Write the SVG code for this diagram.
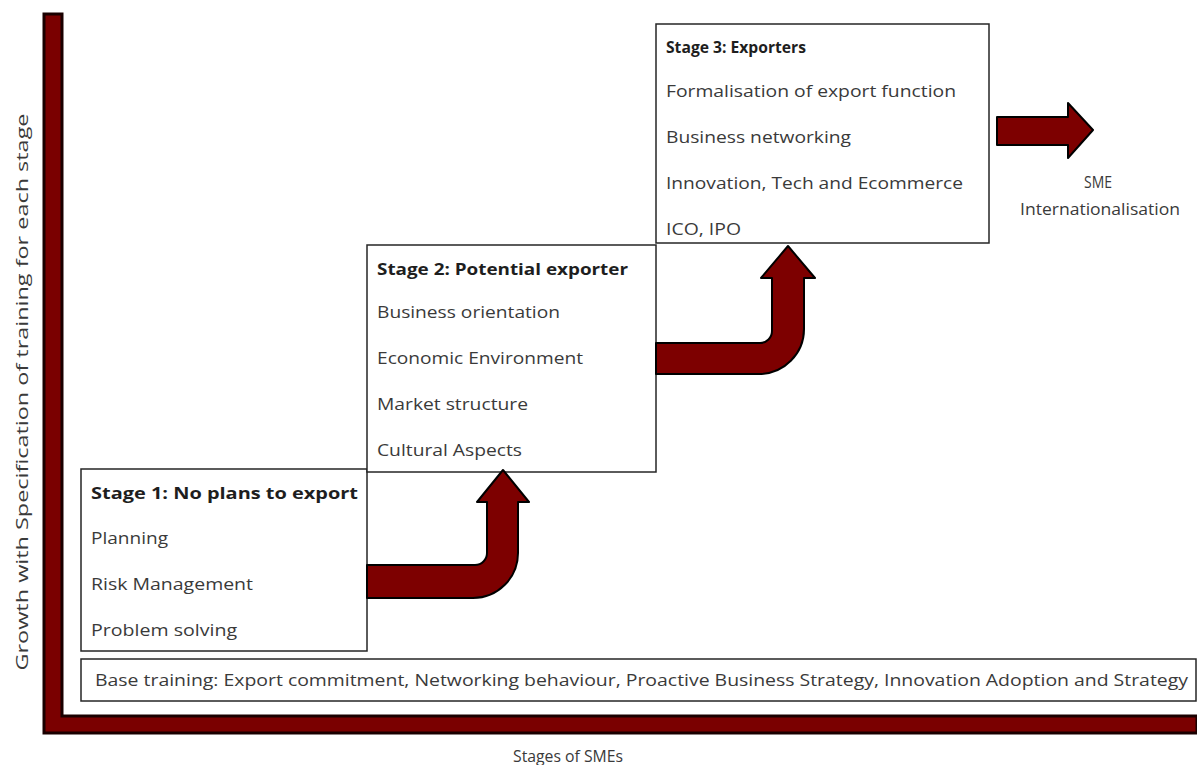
<svg xmlns="http://www.w3.org/2000/svg" width="1197" height="765" viewBox="0 0 1197 765">
<style>
.box{fill:#fff;stroke:#262626;stroke-width:1.5}
.arr{fill:#7d0000;stroke:#000;stroke-width:2;stroke-linejoin:round}
.t{font-family:"Open Sans","Liberation Sans",sans-serif;font-size:16px;fill:#3a3a3a}
.b{font-weight:bold;fill:#1e1e1e}
</style>
<rect width="1197" height="765" fill="#fff"/>
<g id="axes">
<path d="M44,14 H62 V716 H1197 V733 H44 Z" fill="#7a0000" stroke="#1a0000" stroke-width="3"/>
<text class="t" x="568" y="762" text-anchor="middle" textLength="110" lengthAdjust="spacingAndGlyphs">Stages of SMEs</text>
<text class="t" transform="translate(28,392) rotate(-90)" text-anchor="middle" textLength="557" lengthAdjust="spacingAndGlyphs">Growth  with Specification of training for each stage</text>
</g>
<g id="base">
<rect class="box" x="81" y="659" width="1115" height="42"/>
<text class="t" x="95" y="686" textLength="1093" lengthAdjust="spacingAndGlyphs">Base training: Export commitment,  Networking behaviour, Proactive Business Strategy, Innovation Adoption  and Strategy</text>
</g>
<g id="stage1">
<rect class="box" x="81" y="469" width="286" height="182"/>
<text class="t b" x="91" y="499" textLength="267" lengthAdjust="spacingAndGlyphs">Stage 1: No plans to export</text>
<text class="t" x="91" y="544" textLength="77" lengthAdjust="spacingAndGlyphs">Planning</text>
<text class="t" x="91" y="590" textLength="162" lengthAdjust="spacingAndGlyphs">Risk Management</text>
<text class="t" x="91" y="636" textLength="146" lengthAdjust="spacingAndGlyphs">Problem solving</text>
</g>
<g id="stage2">
<rect class="box" x="367" y="245" width="289" height="227"/>
<text class="t b" x="377" y="275" textLength="251" lengthAdjust="spacingAndGlyphs">Stage 2: Potential exporter</text>
<text class="t" x="377" y="318" textLength="183" lengthAdjust="spacingAndGlyphs">Business orientation</text>
<text class="t" x="377" y="364" textLength="206" lengthAdjust="spacingAndGlyphs">Economic  Environment</text>
<text class="t" x="377" y="410" textLength="151" lengthAdjust="spacingAndGlyphs">Market structure</text>
<text class="t" x="377" y="456" textLength="145" lengthAdjust="spacingAndGlyphs">Cultural Aspects</text>
</g>
<g id="stage3">
<rect class="box" x="656" y="24" width="333" height="219"/>
<text class="t b" x="666" y="53" textLength="140" lengthAdjust="spacingAndGlyphs">Stage 3: Exporters</text>
<text class="t" x="666" y="97" textLength="290" lengthAdjust="spacingAndGlyphs">Formalisation of export  function</text>
<text class="t" x="666" y="143" textLength="185" lengthAdjust="spacingAndGlyphs">Business networking</text>
<text class="t" x="666" y="189" textLength="297" lengthAdjust="spacingAndGlyphs">Innovation,  Tech and Ecommerce</text>
<text class="t" x="666" y="235" textLength="75" lengthAdjust="spacingAndGlyphs">ICO, IPO</text>
</g>
<g id="outcome">
<text class="t" x="1098" y="188" text-anchor="middle" textLength="28" lengthAdjust="spacingAndGlyphs">SME</text>
<text class="t" x="1100" y="215" text-anchor="middle" textLength="160" lengthAdjust="spacingAndGlyphs">Internationalisation</text>
</g>
<g id="connectors">
<path class="arr" d="M367,565 H475 A12,12 0 0 0 487,553 V502 H477 L503,470 L529,502 H518 V553 A45,45 0 0 1 473,598 H367 Z"/>
<path class="arr" d="M656,343 H760 A12,12 0 0 0 772,331 V278 H761 L788,246 L815,278 H804 V329 A45,45 0 0 1 759,374 H656 Z"/>
<path class="arr" d="M997,117 H1068 V103 L1093,130 L1068,158 V145 H997 Z"/>
</g>
</svg>
